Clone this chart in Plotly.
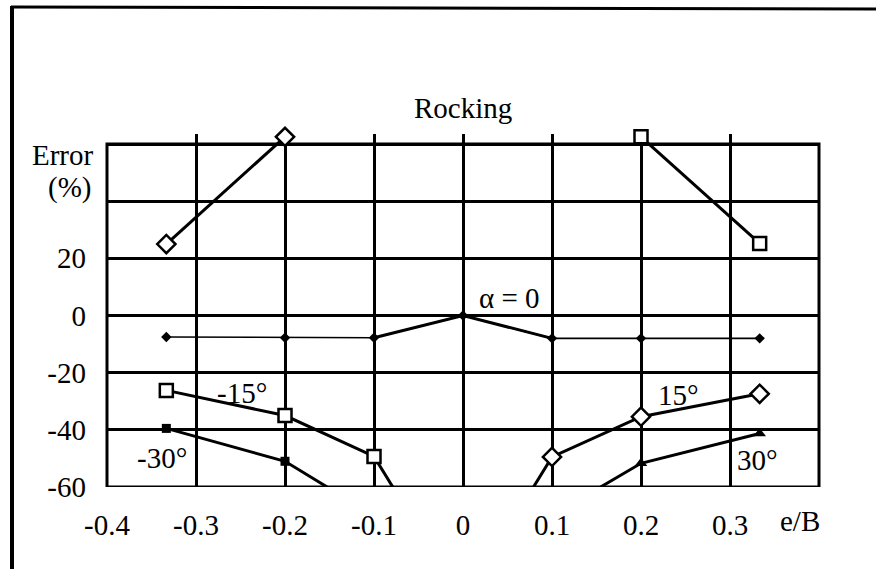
import plotly.graph_objects as go

# ---------------- data ----------------
e_over_b = [-1/3, -0.2, -0.1, 0.0, 0.1, 0.2, 1/3]
err_alpha0 = [-7.5, -7.8, -7.8, 0.0, -8.0, -8.0, -8.0]
err_pos15 = [25.0, 62.5, None, -100.0, -49.5, -35.4, -27.4]
err_neg15 = [-26.2, -35.0, -49.3, -100.0, None, 62.5, 25.2]
err_neg30 = [-39.5, -51.0, -70.0, None, None, None, None]
err_pos30 = [None, None, None, None, -70.0, -51.7, -41.3]

x_tick_vals = [-0.4, -0.3, -0.2, -0.1, 0.0, 0.1, 0.2, 0.3]
x_tick_text = ["-0.4", "-0.3", "-0.2", "-0.1", "0", "0.1", "0.2", "0.3"]
y_tick_vals = [-60, -40, -20, 0, 20, 40, 60]
y_tick_text = ["-60", "-40", "-20", "0", "20", "", ""]

# ---------------- layout geometry ----------------
W_FIG, H_FIG = 876, 569
ML, MR, MT, MB = 107, 57, 134, 82
PW = W_FIG - ML - MR
PH = H_FIG - MT - MB
FONT = "Liberation Serif"
FS = 29


def px(xp):
    return (xp - ML) / PW


def py(yp):
    return 1 - (yp - MT) / PH


def visible(xs, ys, lo=-60, hi=66):
    pts = [(a, b) for a, b in zip(xs, ys) if b is not None and lo <= b <= hi]
    return [p[0] for p in pts], [p[1] for p in pts]


fig = go.Figure()

LINE_W = 3

# alpha = 0 (thin overall, thick in the middle)
fig.add_trace(go.Scatter(x=e_over_b, y=err_alpha0, mode="lines",
                         line=dict(color="black", width=1.6), showlegend=False))
fig.add_trace(go.Scatter(x=e_over_b[2:5], y=err_alpha0[2:5], mode="lines",
                         line=dict(color="black", width=3), showlegend=False))
fig.add_trace(go.Scatter(x=e_over_b, y=err_alpha0, mode="markers",
                         marker=dict(symbol="diamond", size=8, color="black"),
                         cliponaxis=False, showlegend=False))

# +15 (open diamonds)
fig.add_trace(go.Scatter(x=e_over_b, y=err_pos15, mode="lines",
                         line=dict(color="black", width=LINE_W), showlegend=False))
vx, vy = visible(e_over_b, err_pos15)
fig.add_trace(go.Scatter(x=vx, y=vy, mode="markers",
                         marker=dict(symbol="diamond", size=14, color="white",
                                     line=dict(color="black", width=2.5)),
                         cliponaxis=False, showlegend=False))

# -15 (open squares)
fig.add_trace(go.Scatter(x=e_over_b, y=err_neg15, mode="lines",
                         line=dict(color="black", width=LINE_W), showlegend=False))
vx, vy = visible(e_over_b, err_neg15)
fig.add_trace(go.Scatter(x=vx, y=vy, mode="markers",
                         marker=dict(symbol="square", size=13, color="white",
                                     line=dict(color="black", width=2.5)),
                         cliponaxis=False, showlegend=False))

# -30 (filled squares)
fig.add_trace(go.Scatter(x=e_over_b, y=err_neg30, mode="lines",
                         line=dict(color="black", width=LINE_W), showlegend=False))
vx, vy = visible(e_over_b, err_neg30)
fig.add_trace(go.Scatter(x=vx, y=vy, mode="markers",
                         marker=dict(symbol="square", size=9, color="black"),
                         cliponaxis=False, showlegend=False))

# +30 (filled triangles)
fig.add_trace(go.Scatter(x=e_over_b, y=err_pos30, mode="lines",
                         line=dict(color="black", width=LINE_W), showlegend=False))
vx, vy = visible(e_over_b, err_pos30)
fig.add_trace(go.Scatter(x=vx, y=vy, mode="markers",
                         marker=dict(symbol="triangle-up", size=11, color="black"),
                         cliponaxis=False, showlegend=False))

# ---------------- axes ----------------
fig.update_xaxes(range=[-0.4, 0.4], tickvals=x_tick_vals, ticktext=x_tick_text,
                 showgrid=True, gridcolor="black", gridwidth=2.5, zeroline=False,
                 showline=False, ticks="", ticklabelstandoff=18,
                 tickfont=dict(family=FONT, size=FS, color="black"))
fig.update_yaxes(range=[-60, 63.5], tickvals=y_tick_vals, ticktext=y_tick_text,
                 showgrid=True, gridcolor="black", gridwidth=2.5, zeroline=False,
                 showline=False, ticks="", ticklabelstandoff=20,
                 tickfont=dict(family=FONT, size=FS, color="black"))

shapes = [
    # plot frame
    dict(type="rect", xref="paper", yref="y", x0=0, x1=1, y0=-60, y1=60,
         line=dict(color="black", width=3), layer="below"),
    # scanned page frame (top and left edges)
    dict(type="line", xref="paper", yref="paper", x0=px(11), x1=px(876),
         y0=py(7), y1=py(9), line=dict(color="black", width=3)),
    dict(type="line", xref="paper", yref="paper", x0=px(12), x1=px(12),
         y0=py(6), y1=py(569), line=dict(color="black", width=4)),
]

ann_font = dict(family=FONT, size=FS, color="black")


def label(text, xp, yp, xanchor="center"):
    return dict(text=text, xref="paper", yref="paper", x=px(xp), y=py(yp),
                xanchor=xanchor, yanchor="middle", showarrow=False, font=ann_font)


annotations = [
    label("Rocking", 463, 108),
    label("Error", 96, 155, "right"),
    label("(%)", 93, 187, "right"),
    label("e/B", 800, 521),
    label("α = 0", 509, 298),
    label("-15°", 242, 393),
    label("-30°", 162, 458),
    label("15°", 678, 395),
    label("30°", 757, 460),
]

fig.update_layout(width=W_FIG, height=H_FIG,
                  margin=dict(l=ML, r=MR, t=MT, b=MB, pad=0),
                  paper_bgcolor="white", plot_bgcolor="white",
                  shapes=shapes, annotations=annotations, showlegend=False)

fig.write_html("out.html",
               config={"displayModeBar": False},
               post_script="document.body.style.margin='0px';"
                           "document.body.style.overflow='hidden';")
